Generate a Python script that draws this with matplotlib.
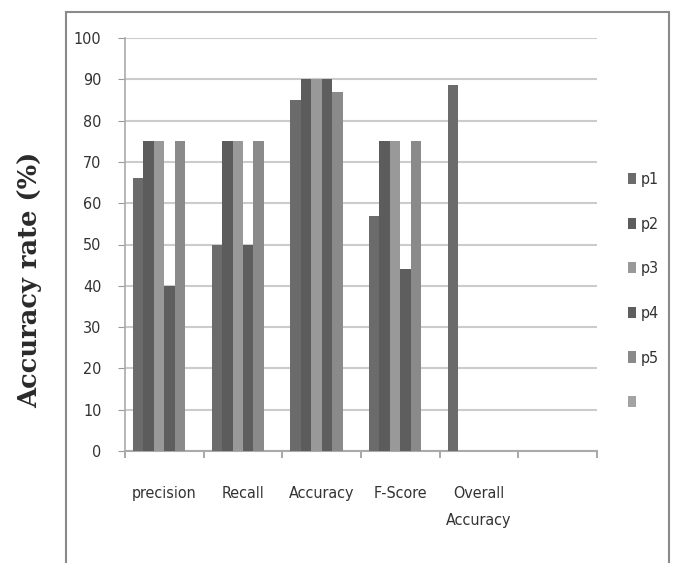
import matplotlib
matplotlib.use("Agg")
import matplotlib.pyplot as plt
import numpy as np
from matplotlib.patches import Rectangle

categories = ["precision", "Recall", "Accuracy", "F-Score", "Overall\nAccuracy", ""]
series_names = ["p1", "p2", "p3", "p4", "p5", ""]
p1 = [66, 50, 85, 57, 88.5, np.nan]
p2 = [75, 75, 90, 75, np.nan, np.nan]
p3 = [75, 75, 90, 75, np.nan, np.nan]
p4 = [40, 50, 90, 44, np.nan, np.nan]
p5 = [75, 75, 87, 75, np.nan, np.nan]
p6 = [np.nan, np.nan, np.nan, np.nan, np.nan, np.nan]
yticks = list(range(0, 101, 10))

colors = ["#6b6b6b", "#5c5c5c", "#999999", "#5e5e5e", "#8a8a8a", "#a3a3a3"]
series = [p1, p2, p3, p4, p5, p6]

narrow = ["Liberation Sans Narrow", "DejaVu Sans"]
fs = 11.5

fig = plt.figure(figsize=(6.74, 5.63), dpi=100)
W, H = 674, 563
ax = fig.add_axes([125 / W, 1 - 451 / H, (597 - 125) / W, (451 - 38) / H])

n = len(series)
slot = 1.0
w = slot / (n + 1.5)
x = np.arange(len(categories))
for i, (vals, c, name) in enumerate(zip(series, colors, series_names)):
    offs = -slot / 2 + 0.75 * w + i * w
    ax.bar(x + offs + w / 2, vals, width=w, color=c, label=name if name else " ", zorder=3)

ax.set_xlim(-0.5, len(categories) - 0.5)
ax.set_ylim(0, 100)
ax.set_yticks(yticks)
ax.set_yticklabels([str(v) for v in yticks], family=narrow, stretch="condensed", fontsize=fs, color="#333333")
ax.yaxis.grid(True, color="#cccccc", lw=1.5, zorder=0)
ax.set_axisbelow(True)
ax.tick_params(axis="y", length=5, color="#999999", pad=12)

ax.set_xticks(np.arange(len(categories) + 1) - 0.5, minor=False)
ax.set_xticklabels([])
ax.tick_params(axis="x", length=5, color="#999999", width=1.2)
ax.set_xticks(x, minor=True)
ax.set_xticklabels(categories, minor=True, family=narrow, stretch="condensed", fontsize=fs,
                   color="#333333", va="top", linespacing=2.05)
ax.tick_params(axis="x", which="minor", length=0, pad=25)

for s in ["top", "right"]:
    ax.spines[s].set_visible(False)
ax.spines["left"].set_color("#aaaaaa")
ax.spines["bottom"].set_color("#aaaaaa")
ax.spines["left"].set_linewidth(1.2)
ax.spines["bottom"].set_linewidth(1.5)

handles, labels = ax.get_legend_handles_labels()
leg = fig.legend(handles, labels, loc="upper left", bbox_to_anchor=(614 / W, 1 - 158 / H),
                 frameon=False, prop={"family": narrow, "stretch": "condensed", "size": fs},
                 handlelength=0.5, handleheight=0.7, handletextpad=0.3,
                 labelspacing=1.85, labelcolor="#333333")

fig.text(30 / W, 1 - 280 / H, "Accuracy rate (%)", rotation=90, ha="center", va="center",
         family="DejaVu Serif", fontweight="bold", fontsize=18.5, color="#2a2a2a")

frame = Rectangle((66 / W, -0.1), (669 - 66) / W, 1.1 - 12 / H, transform=fig.transFigure,
                  fill=False, edgecolor="#8a8a8a", lw=1.5)
fig.patches.append(frame)

fig.savefig("out.png", dpi=100, facecolor="white")
